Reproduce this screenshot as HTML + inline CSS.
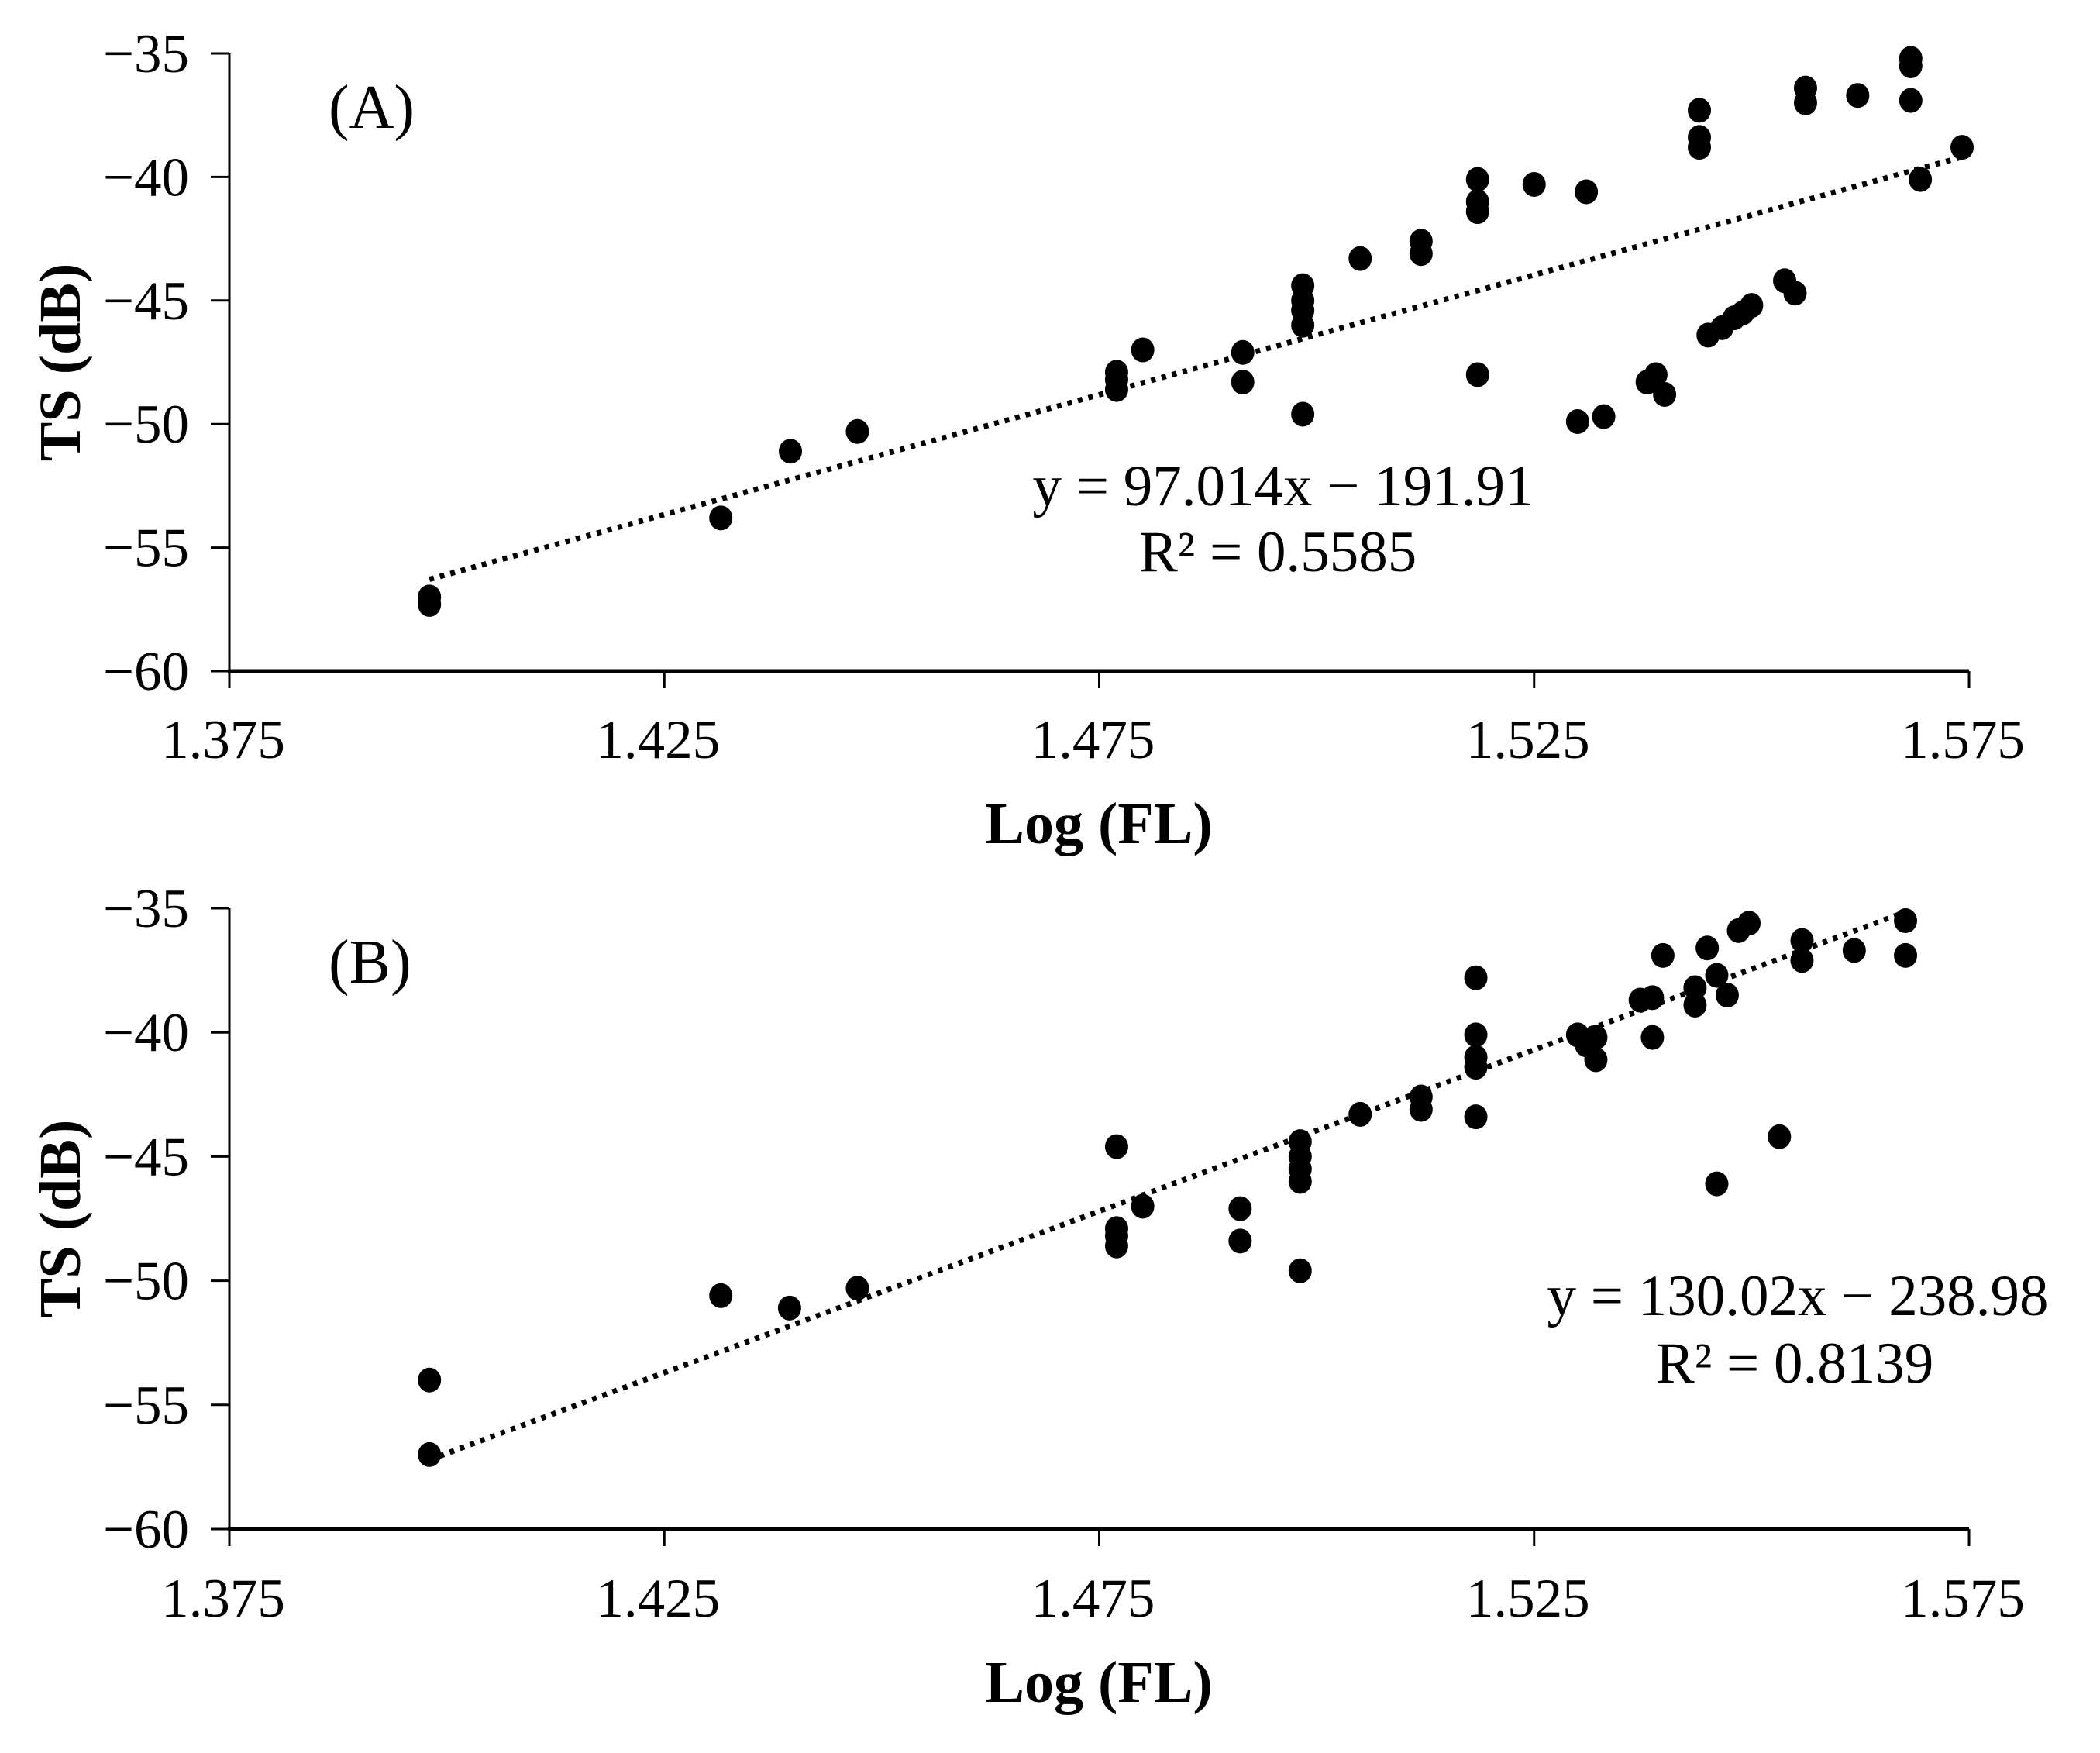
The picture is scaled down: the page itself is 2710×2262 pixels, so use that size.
<!DOCTYPE html>
<html><head><meta charset="utf-8"><style>
body{margin:0;background:#fff}
svg{display:block}
text{font-family:"Liberation Serif",serif;fill:#000}
</style></head>
<body>
<svg id="fig" width="2710" height="2262" viewBox="0 0 2710 2262" xmlns="http://www.w3.org/2000/svg"></svg>
<script>
const xTicks = [1.375, 1.425, 1.475, 1.525, 1.575];
const yTicks = [-35, -40, -45, -50, -55, -60];
const aX = [1.398,1.398,1.4315,1.4395,1.4472,1.477,1.477,1.477,1.480,1.4915,1.4915,1.4984,1.4984,1.4984,1.4984,1.4984,1.505,1.512,1.512,1.5185,1.5185,1.5185,1.5185,1.525,1.531,1.530,1.533,1.538,1.539,1.540,1.544,1.544,1.544,1.545,1.5466,1.548,1.549,1.550,1.5538,1.555,1.5562,1.5562,1.5622,1.5683,1.5683,1.5683,1.5694,1.5742];
const aY = [-57.0,-57.3,-53.8,-51.1,-50.3,-47.9,-48.2,-48.6,-47.0,-47.1,-48.3,-44.4,-45.0,-45.4,-46.0,-49.6,-43.3,-42.6,-43.1,-40.1,-41.0,-41.4,-48.0,-40.3,-40.6,-49.9,-49.7,-48.3,-48.0,-48.8,-37.3,-38.4,-38.8,-46.4,-46.1,-45.7,-45.5,-45.2,-44.2,-44.7,-36.4,-37.0,-36.7,-35.2,-35.5,-36.9,-40.1,-38.8];
const bX = [1.398,1.398,1.4315,1.4394,1.4472,1.477,1.477,1.477,1.477,1.480,1.4912,1.4912,1.4981,1.4981,1.4981,1.4981,1.4981,1.505,1.512,1.512,1.5183,1.5183,1.5183,1.5183,1.5183,1.530,1.531,1.5321,1.5321,1.5372,1.5386,1.5386,1.5398,1.5435,1.5435,1.5449,1.546,1.546,1.5472,1.5485,1.5497,1.5532,1.5558,1.5558,1.5618,1.5677,1.5677];
const bY = [-54.0,-57.0,-50.6,-51.1,-50.3,-44.6,-47.9,-48.2,-48.6,-47.0,-47.1,-48.4,-44.4,-45.0,-45.5,-46.0,-49.6,-43.3,-42.6,-43.1,-37.8,-40.1,-41.0,-41.4,-43.4,-40.1,-40.5,-40.2,-41.1,-38.7,-38.6,-40.2,-36.9,-38.2,-38.9,-36.6,-37.7,-46.1,-38.5,-35.9,-35.6,-44.2,-36.3,-37.1,-36.7,-35.5,-36.9];
const fitA = [97.014, -191.91, 1.398, 1.5742];
const fitB = [130.02, -238.98, 1.398, 1.5683];

const NS = "http://www.w3.org/2000/svg";
const svg = document.getElementById('fig');
function mk(tag, attrs, parent){const e=document.createElementNS(NS,tag);for(const k in attrs)e.setAttribute(k,attrs[k]);(parent||svg).appendChild(e);return e;}

function panel(top, bottom, xs, ys, fit, label, eq, r2, eqX, eqY, r2X, r2Y, xlabY, xtitY, key){
  const g = mk('g',{});
  
  
  const X0=296, X1=2541;
  const sx = v => X0 + (v-1.375)/(0.2)*(X1-X0);
  const sy = v => top + (-35 - v)/25*(bottom-top);
  const yax = mk('line',{x1:X0,y1:top,x2:X0,y2:bottom,stroke:'#000','stroke-width':3},g);
  
  
  const xax = mk('line',{x1:X0-2,y1:bottom,x2:X1,y2:bottom,stroke:'#000','stroke-width':5},g);
  
  
  yTicks.forEach(t=>{
    mk('line',{x1:X0-24,y1:sy(t),x2:X0,y2:sy(t),stroke:'#000','stroke-width':3},g);
    const tx = mk('text',{x:X0-52,y:sy(t)+24,'text-anchor':'end','font-size':71},g);
    tx.textContent = '\u2212'+Math.abs(t);
    
    
  });
  xTicks.forEach(t=>{
    mk('line',{x1:sx(t),y1:bottom,x2:sx(t),y2:bottom+22,stroke:'#000','stroke-width':3},g);
    const tx = mk('text',{x:sx(t)-8,y:xlabY,'text-anchor':'middle','font-size':71},g);
    tx.textContent = t.toFixed(3);
    
    
  });
  const xt = mk('text',{x:1418,y:xtitY,'text-anchor':'middle','font-size':76,'font-weight':'bold'},g);
  xt.textContent='Log (FL)';
  
  
  const cy=(top+bottom)/2;
  const yt = mk('text',{x:0,y:0,'text-anchor':'middle','font-size':76,'font-weight':'bold',transform:`translate(103 ${cy}) rotate(-90)`},g);
  yt.textContent='TS (dB)';
  
  
  const pl = mk('text',{x:424,y:top+96,'font-size':80},g);
  pl.textContent=label;
  
  
  const tl = mk('line',{x1:sx(fit[2]),y1:sy(fit[0]*fit[2]+fit[1]),x2:sx(fit[3]),y2:sy(fit[0]*fit[3]+fit[1]),stroke:'#000','stroke-width':7,'stroke-dasharray':'6 8'},g);
  
  
  xs.forEach((v,i)=>{
    const c = mk('ellipse',{cx:sx(v),cy:sy(ys[i]),rx:15,ry:16,fill:'#000'},g);
    
    
  });
  const e1 = mk('text',{x:eqX,y:eqY,'text-anchor':'middle','font-size':75},g);
  e1.textContent=eq;
  
  
  const e2 = mk('text',{x:r2X,y:r2Y,'text-anchor':'middle','font-size':75},g);
  e2.textContent=r2;
  
  
}
panel(69, 866, aX, aY, fitA, '(A)', 'y = 97.014x \u2212 191.91', 'R\u00b2 = 0.5585', 1656, 652, 1649, 737, 978, 1088, 'a');
panel(1172, 1973, bX, bY, fitB, '(B)', 'y = 130.02x \u2212 238.98', 'R\u00b2 = 0.8139', 2320, 1697, 2316, 1784, 2086, 2196, 'b');
</script>
</body></html>
